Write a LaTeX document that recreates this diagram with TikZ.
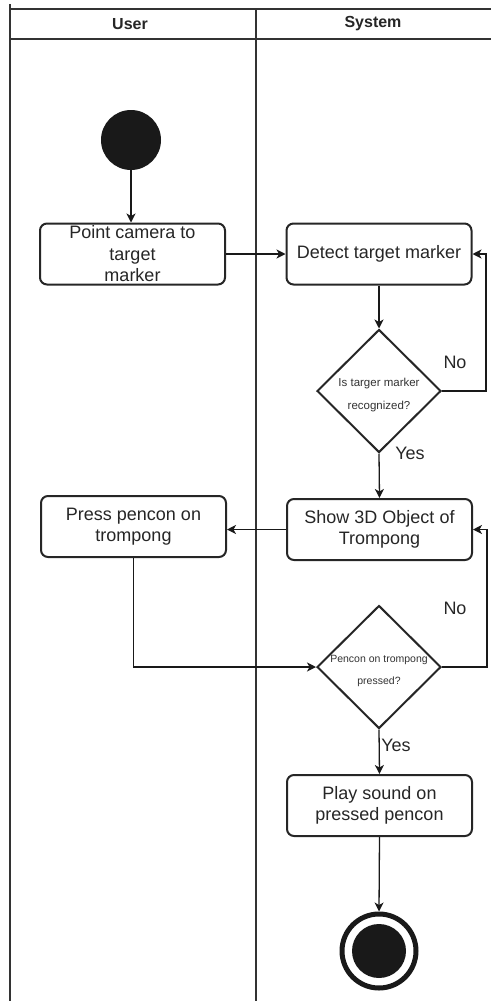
\documentclass[tikz,border=0pt]{standalone}
\usepackage{fontspec}
\setmainfont{Liberation Sans}
\usetikzlibrary{shapes.geometric,arrows.meta,calc}

\tikzset{
  lane/.style={draw=black!80, line width=1.2pt},
  actbox/.style={draw=black!85, line width=2pt, rounded corners=7pt, fill=white,
    minimum width=185pt, minimum height=61pt, align=center, inner sep=2pt,
    font=\fontsize{18}{21.5}\selectfont, text=black!85},
  decision/.style={draw=black!85, line width=2pt, diamond, fill=white,
    minimum width=124pt, minimum height=123pt, inner sep=0pt},
  dtext/.style={align=center, text=black!80},
  flow/.style={draw=black!90, line width=1.3pt, -{Stealth[length=9pt,width=9pt,inset=2.5pt]}},
  flowlabel/.style={font=\fontsize{18}{21.5}\selectfont, text=black!85, inner sep=0pt},
  lanehead/.style={font=\bfseries\fontsize{16}{19}\selectfont, text=black!85}
}

\begin{document}
\begin{tikzpicture}[x=1pt,y=-1pt]
  \useasboundingbox (0,0) rectangle (491,1001);

  % swimlanes
  \draw[lane] (10,4) -- (10,1001);
  \draw[lane] (10,9) -- (491,9);
  \draw[lane] (10,39) -- (491,39);
  \draw[lane] (256,9) -- (256,1001);
  \node[lanehead] (hUser) at (130,24) {User};
  \node[lanehead] (hSys) at (373,24) {System};

  % start state
  \node[circle, fill=black!90, minimum size=60pt, inner sep=0pt] (start) at (131,140) {};

  % activities
  \node[actbox] (point) at (132.5,254) {Point camera to\\target\\marker};
  \node[actbox] (detect) at (379,254) {Detect target marker};
  \node[actbox] (show) at (379.5,529.5) {Show 3D Object of\\Trompong};
  \node[actbox] (press) at (133.5,526.5) {Press pencon on\\trompong};
  \node[actbox] (play) at (379.5,805.5) {Play sound on\\pressed pencon};

  % decisions
  \node[decision] (recog) at (379,391) {};
  \node[dtext, font=\fontsize{11.5}{23}\selectfont] (recogT) at (379,395) {Is targer marker\\recognized?};
  \node[decision] (pressed) at (379,667) {};
  \node[dtext, font=\fontsize{10.5}{22}\selectfont] (pressedT) at (379,671) {Pencon on trompong\\pressed?};

  % end state
  \node[circle, draw=black!90, line width=5pt, fill=white, minimum size=74pt, inner sep=0pt] (stop) at (379,951) {};
  \node[circle, fill=black!90, minimum size=54pt, inner sep=0pt] (stopIn) at (379,951) {};

  % turning points of the loops
  \coordinate (loopA) at (486,0);
  \coordinate (loopB) at (487,0);

  % connectors
  \draw[flow] (start.south) -- (start.south |- point.north);
  \draw[flow] (point.east) -- (detect.west);
  \draw[flow] (detect.south) -- (recog.north);
  \draw[flow] (recog.east) -| (loopA |- detect.east) -- (detect.east);
  \draw[flow] (recog.south) -- (show.north);
  \draw[flow] (show.west) -- (show.west -| press.east);
  \draw[flow] (press.south) |- (pressed.west);
  \draw[flow] (pressed.east) -| (loopB |- show.east) -- (show.east);
  \draw[flow] (pressed.south) -- (play.north);
  \draw[flow] (play.south) -- (stop.north);

  % guard labels
  \node[flowlabel] (noA) at (455,362) {No};
  \node[flowlabel] (yesA) at (410,453) {Yes};
  \node[flowlabel] (noB) at (455,608) {No};
  \node[flowlabel] (yesB) at (396,745) {Yes};
\end{tikzpicture}
\end{document}
